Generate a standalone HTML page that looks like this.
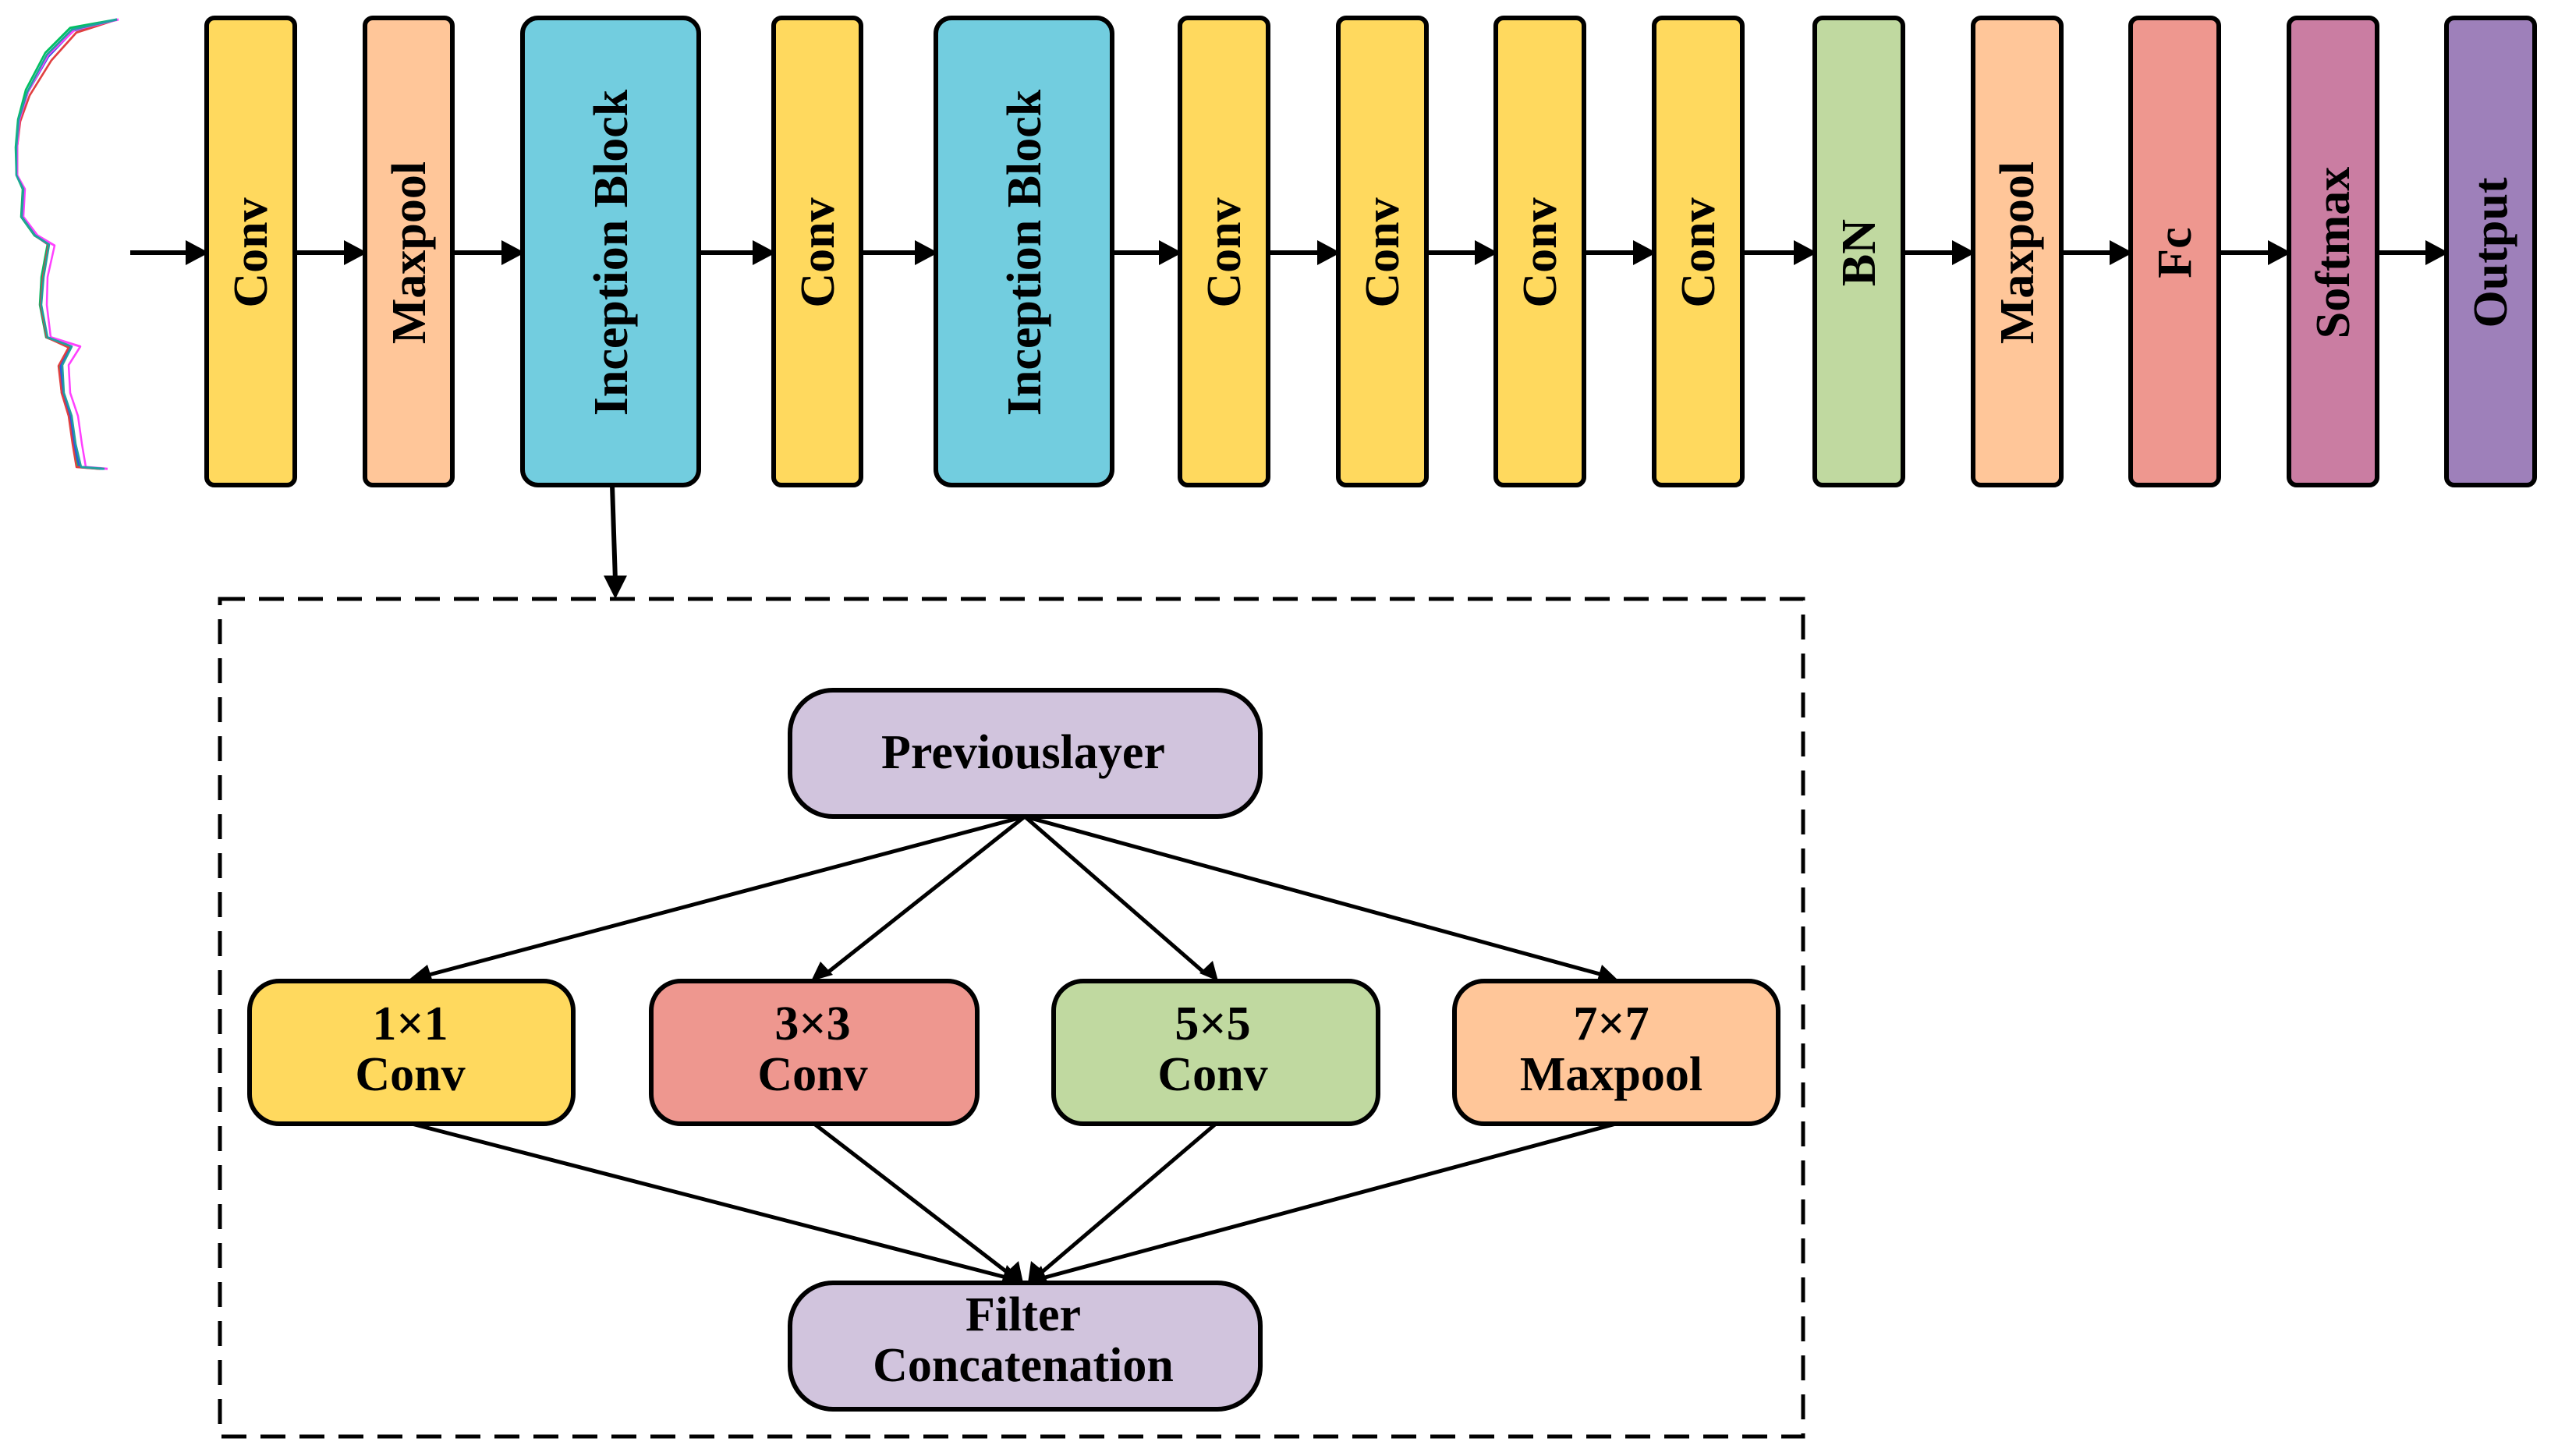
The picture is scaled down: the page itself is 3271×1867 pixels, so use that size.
<!DOCTYPE html>
<html><head><meta charset="utf-8"><style>html,body{margin:0;padding:0;background:#fff}svg{display:block}</style></head><body>
<svg width="3271" height="1867" viewBox="0 0 3271 1867" xmlns="http://www.w3.org/2000/svg">
<g fill="none" stroke-width="2.5" stroke-linejoin="round" transform="translate(0,25) scale(1,1.188) translate(0,-22)">
<polyline stroke="#00c060" points="150,22 90,31 58,58 33,98 23,130 20,160 21,190 29,205 27,235 44,255 61,264 53,300 51,330 59,365 89,375 76,395 79,425 89,450 94,480 100,505 130,507"/>
<polyline stroke="#3050e0" points="150,22 94,34 62,62 36,100 25,130 22,160 22,190 30,205 28,235 45,255 62,265 55,300 52,330 60,365 90,375 78,395 80,425 90,450 95,480 102,505 132,507"/>
<polyline stroke="#e04040" points="150,22 98,36 66,66 38,104 26,132 22,160 22,190 30,205 28,235 45,255 62,265 55,300 52,330 60,365 88,376 75,396 79,425 88,450 93,480 98,505 128,507"/>
<polyline stroke="#ff40ff" points="152,22 96,33 62,60 36,100 25,130 22,160 22,190 32,205 30,235 48,255 70,266 61,300 60,330 65,365 103,375 88,395 90,425 100,450 105,480 110,505 138,507"/>
<polyline stroke="#20a0a0" points="150,22 92,33 60,60 35,100 24,130 21,160 21,190 30,205 28,235 45,255 63,265 56,300 53,330 61,365 92,375 80,395 82,425 92,450 97,480 104,505 134,507"/>
</g>
<g stroke="#000" stroke-width="6" fill="none">
<line x1="167" y1="324" x2="255" y2="324"/>
<line x1="378" y1="324" x2="458" y2="324"/>
<line x1="580" y1="324" x2="660" y2="324"/>
<line x1="896" y1="324" x2="982" y2="324"/>
<line x1="1104" y1="324" x2="1190" y2="324"/>
<line x1="1426" y1="324" x2="1503" y2="324"/>
<line x1="1626" y1="324" x2="1706" y2="324"/>
<line x1="1829" y1="324" x2="1908" y2="324"/>
<line x1="2031" y1="324" x2="2111" y2="324"/>
<line x1="2234" y1="324" x2="2317" y2="324"/>
<line x1="2440" y1="324" x2="2520" y2="324"/>
<line x1="2643" y1="324" x2="2722" y2="324"/>
<line x1="2845" y1="324" x2="2925" y2="324"/>
<line x1="3048" y1="324" x2="3127" y2="324"/>
<line x1="785" y1="622" x2="789" y2="745"/>
</g>
<g fill="#000">
<polygon points="238,308 268,324 238,340"/>
<polygon points="441,308 471,324 441,340"/>
<polygon points="643,308 673,324 643,340"/>
<polygon points="965,308 995,324 965,340"/>
<polygon points="1173,308 1203,324 1173,340"/>
<polygon points="1486,308 1516,324 1486,340"/>
<polygon points="1689,308 1719,324 1689,340"/>
<polygon points="1891,308 1921,324 1891,340"/>
<polygon points="2094,308 2124,324 2094,340"/>
<polygon points="2300,308 2330,324 2300,340"/>
<polygon points="2503,308 2533,324 2503,340"/>
<polygon points="2705,308 2735,324 2705,340"/>
<polygon points="2908,308 2938,324 2908,340"/>
<polygon points="3110,308 3140,324 3110,340"/>
<polygon points="774,738 804,738 789,768"/>
</g>
<g stroke="#000" stroke-width="6">
<rect x="265" y="23" width="113" height="599" rx="10" fill="#FFD95E"/>
<rect x="468" y="23" width="112" height="599" rx="10" fill="#FFC699"/>
<rect x="670" y="23" width="226" height="599" rx="20" fill="#72CDDF"/>
<rect x="992" y="23" width="112" height="599" rx="10" fill="#FFD95E"/>
<rect x="1200" y="23" width="226" height="599" rx="20" fill="#72CDDF"/>
<rect x="1513" y="23" width="113" height="599" rx="10" fill="#FFD95E"/>
<rect x="1716" y="23" width="113" height="599" rx="10" fill="#FFD95E"/>
<rect x="1918" y="23" width="113" height="599" rx="10" fill="#FFD95E"/>
<rect x="2121" y="23" width="113" height="599" rx="10" fill="#FFD95E"/>
<rect x="2327" y="23" width="113" height="599" rx="10" fill="#C0D9A0"/>
<rect x="2530" y="23" width="113" height="599" rx="10" fill="#FFC699"/>
<rect x="2732" y="23" width="113" height="599" rx="10" fill="#EE978F"/>
<rect x="2935" y="23" width="113" height="599" rx="10" fill="#CA7DA2"/>
<rect x="3137" y="23" width="113" height="599" rx="10" fill="#9E80BA"/>
</g>
<g font-family="'Liberation Serif',serif" font-weight="bold" font-size="62" text-anchor="middle" fill="#000">
<text transform="translate(321,324) rotate(-90)" dy="21">Conv</text>
<text transform="translate(524,324) rotate(-90)" dy="21">Maxpool</text>
<text transform="translate(783,324) rotate(-90)" dy="21">Inception Block</text>
<text transform="translate(1048,324) rotate(-90)" dy="21">Conv</text>
<text transform="translate(1313,324) rotate(-90)" dy="21">Inception Block</text>
<text transform="translate(1569,324) rotate(-90)" dy="21">Conv</text>
<text transform="translate(1772,324) rotate(-90)" dy="21">Conv</text>
<text transform="translate(1974,324) rotate(-90)" dy="21">Conv</text>
<text transform="translate(2177,324) rotate(-90)" dy="21">Conv</text>
<text transform="translate(2383,324) rotate(-90)" dy="21">BN</text>
<text transform="translate(2586,324) rotate(-90)" dy="21">Maxpool</text>
<text transform="translate(2788,324) rotate(-90)" dy="21">Fc</text>
<text transform="translate(2991,324) rotate(-90)" dy="21">Softmax</text>
<text transform="translate(3193,324) rotate(-90)" dy="21">Output</text>
</g>
<rect x="282" y="768" width="2030" height="1074" fill="none" stroke="#000" stroke-width="5" stroke-dasharray="32,18"/>
<g stroke="#000" stroke-width="5">
<line x1="1314" y1="1047" x2="550" y2="1250"/>
<line x1="1314" y1="1047" x2="1060" y2="1248"/>
<line x1="1314" y1="1047" x2="1545" y2="1248"/>
<line x1="1314" y1="1047" x2="2055" y2="1250"/>
<line x1="528" y1="1441" x2="1290" y2="1638"/>
<line x1="1044" y1="1441" x2="1300" y2="1638"/>
<line x1="1559" y1="1441" x2="1328" y2="1638"/>
<line x1="2072" y1="1441" x2="1340" y2="1638"/>
</g>
<g fill="#000">
<polygon points="522,1258 548,1237 556,1262"/>
<polygon points="1040,1258 1052,1233 1068,1250"/>
<polygon points="1562,1258 1538,1248 1555,1232"/>
<polygon points="2076,1258 2047,1261 2054,1237"/>
<polygon points="1312,1645 1284,1645 1291,1622"/>
<polygon points="1312,1645 1290,1632 1306,1617"/>
<polygon points="1318,1645 1322,1617 1339,1631"/>
<polygon points="1318,1645 1335,1623 1344,1646"/>
</g>
<g stroke="#000" stroke-width="6">
<rect x="1013" y="885" width="603" height="162" rx="55" fill="#D1C4DD"/>
<rect x="320" y="1258" width="415" height="183" rx="38" fill="#FFD95E"/>
<rect x="835" y="1258" width="418" height="183" rx="38" fill="#EE978F"/>
<rect x="1351" y="1258" width="416" height="183" rx="38" fill="#C0D9A0"/>
<rect x="1865" y="1258" width="415" height="183" rx="38" fill="#FFC699"/>
<rect x="1013" y="1645" width="603" height="162" rx="55" fill="#D1C4DD"/>
</g>
<g font-family="'Liberation Serif',serif" font-weight="bold" font-size="62" text-anchor="middle" fill="#000">
<text x="1312" y="985">Previouslayer</text>
<text x="526" y="1333">1×1</text><text x="526" y="1398">Conv</text>
<text x="1042" y="1333">3×3</text><text x="1042" y="1398">Conv</text>
<text x="1555" y="1333">5×5</text><text x="1555" y="1398">Conv</text>
<text x="2066" y="1333">7×7</text><text x="2066" y="1398">Maxpool</text>
<text x="1312" y="1706">Filter</text><text x="1312" y="1771">Concatenation</text>
</g>
</svg>
</body></html>
